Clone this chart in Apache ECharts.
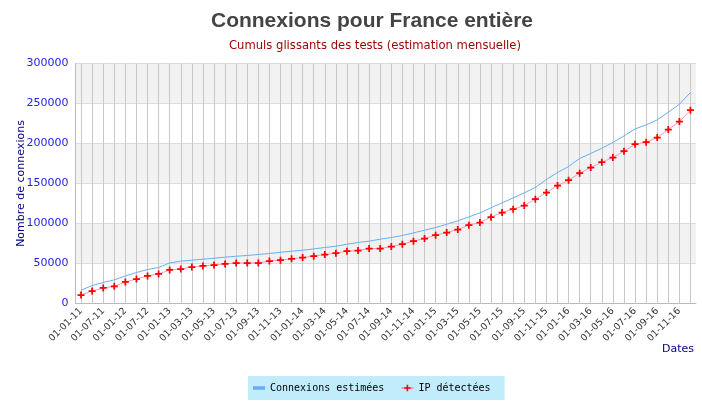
<!DOCTYPE html>
<html><head><meta charset="utf-8">
<script src="https://cdn.jsdelivr.net/npm/echarts@6/dist/echarts.min.js"></script>
<style>html,body{margin:0;padding:0;background:#fff}#c{width:702px;height:406px}</style>
</head><body><div id="c"></div>
<script>
var categories = ['01-01-11','01-04-11','01-07-11','01-10-11','01-01-12','01-04-12','01-07-12','01-10-12',
'01-01-13','01-02-13','01-03-13','01-04-13','01-05-13','01-06-13','01-07-13','01-08-13','01-09-13','01-10-13','01-11-13','01-12-13',
'01-01-14','01-02-14','01-03-14','01-04-14','01-05-14','01-06-14','01-07-14','01-08-14','01-09-14','01-10-14','01-11-14','01-12-14',
'01-01-15','01-02-15','01-03-15','01-04-15','01-05-15','01-06-15','01-07-15','01-08-15','01-09-15','01-10-15','01-11-15','01-12-15',
'01-01-16','01-02-16','01-03-16','01-04-16','01-05-16','01-06-16','01-07-16','01-08-16','01-09-16','01-10-16','01-11-16','01-12-16'];
var connexionsEstimees = [16600,22500,26250,29500,34500,38750,42500,45000,50750,52900,54100,55400,56600,57900,59100,60000,61250,62500,64000,65400,
66600,68250,70000,71600,74100,76250,77900,80400,82500,85000,88250,91600,95000,99100,103250,108250,113250,119700,125750,132000,
138250,145000,155000,163750,171250,181250,187500,194100,201250,209500,218250,223250,229500,239100,249100,263750];
var ipDetectees = [10600,15600,19400,21500,26900,30600,34400,36900,41900,43100,45600,46900,48100,49400,50600,50600,50600,53100,54200,55800,
57500,59100,61250,62900,65400,66250,68750,68750,71250,74100,77900,81250,85400,88750,92500,97900,101250,107900,113750,117900,
122500,130400,138750,147500,154100,162900,170000,176600,182500,190400,199100,201600,207500,217500,227500,241600];
var yTicks = [0,50000,100000,150000,200000,250000,300000];

var chart = echarts.init(document.getElementById('c'), null, {renderer:'canvas'});
chart.setOption({
  animation:false,
  backgroundColor:'#fff',
  title:[{
    text:'Connexions pour France entière', left:367, top:6, textAlign:'center',
    textStyle:{fontFamily:'Liberation Sans', fontWeight:'bold', fontSize:21, color:'#444'}
  },{
    text:'Cumuls glissants des tests (estimation mensuelle)', left:370, top:35, textAlign:'center',
    textStyle:{fontFamily:'DejaVu Sans', fontWeight:'normal', fontSize:11.6, color:'#990000'}
  }],
  legend:{
    left:248, top:376, padding:[7,14,7,5], itemGap:16,
    backgroundColor:'#c0ecfc',
    itemWidth:12, itemHeight:8,
    textStyle:{fontFamily:'DejaVu Sans Mono', fontSize:10, color:'#000'},
    data:[{name:'Connexions estimées', icon:'path://M0,3H10V6H0Z'},{name:'IP détectées'}]
  },
  grid:{left:75.5, right:6, top:63.5, bottom:102.5, containLabel:false, outerBoundsMode:'none'},
  xAxis:{
    type:'category', data:categories, boundaryGap:true,
    name:'Dates', nameLocation:'end', nameGap:0, nameMoveOverlap:false,
    nameTextStyle:{fontFamily:'DejaVu Sans', fontSize:11, color:'#000080', align:'right', verticalAlign:'top', padding:[40,2,0,0]},
    axisLine:{lineStyle:{color:'#bbb'}},
    axisTick:{show:false},
    axisLabel:{interval:1, rotate:45, fontFamily:'DejaVu Sans', fontSize:9.5, color:'#333', margin:6},
    splitLine:{show:true, interval:0, alignWithLabel:true, lineStyle:{color:'#c8c8c8'}}
  },
  yAxis:{
    type:'value', min:yTicks[0], max:yTicks[yTicks.length-1], interval:50000,
    name:'Nombre de connexions', nameLocation:'middle', nameGap:49, nameMoveOverlap:false,
    nameTextStyle:{fontFamily:'DejaVu Sans', fontSize:11, color:'#000080'},
    axisLine:{show:true, lineStyle:{color:'#bbb'}},
    axisTick:{show:false},
    axisLabel:{fontFamily:'DejaVu Sans', fontSize:11, color:'#2222ee', margin:7, formatter:function(v){return String(v);}},
    splitLine:{show:true, lineStyle:{color:'#dcdcdc'}},
    splitArea:{show:true, areaStyle:{color:['#ffffff','#f2f2f2']}}
  },
  series:[{
    name:'Connexions estimées', type:'line', data:connexionsEstimees,
    showSymbol:false, symbol:'none',
    lineStyle:{color:'#6aaef0', width:1},
    itemStyle:{color:'#6aaef0'}
  },{
    name:'IP détectées', type:'line', data:ipDetectees,
    symbol:'path://M3,0H5V3H8V5H5V8H3V5H0V3H3Z', symbolSize:7,
    lineStyle:{color:'#f59ac4', width:1},
    itemStyle:{color:'#ff0000'}
  }]
});
</script></body></html>
